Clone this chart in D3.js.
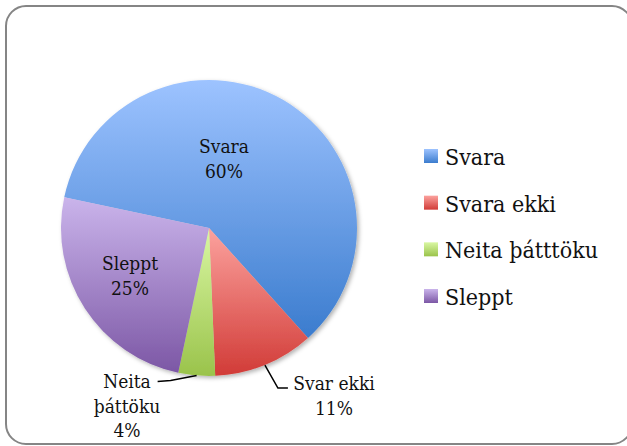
<!DOCTYPE html>
<html>
<head>
<meta charset="utf-8">
<script src="https://cdn.jsdelivr.net/npm/d3@7"></script>
<style>
  html, body { margin: 0; padding: 0; background: #fff; }
  svg { display: block; }
  text { font-family: "DejaVu Serif Condensed", "DejaVu Serif", serif; font-stretch: condensed; fill: #111; }
</style>
</head>
<body>
<div id="chart"></div>
<script>
// Data
const categories = ["Svara", "Svara ekki", "Neita þátttöku", "Sleppt"];
const values = [60, 11, 4, 25];
const sliceLabels = [["Svara", "60%"], ["Svar ekki", "11%"], ["Neita", "þáttöku", "4%"], ["Sleppt", "25%"]];
const colorsTop = ["#9dc3ff", "#fca29e", "#d9f7a3", "#cab4eb"];
const colorsBottom = ["#3b7cce", "#d13b37", "#9ac34b", "#7c57a5"];

/*******************************/
/*    Declare the constants    */
/*******************************/
const width = 627;
const height = 446;
const cx = 209;
const cy = 228;
const radius = 148;
const startAngle = -78 * Math.PI / 180;

// label placement relative to pie center (layout only)
const labelOffsets = [[15, -75], [125, 162], [-82, 160], [-79, 42]];
const leaderLines = [null, [[13, 23], [23, 23]], [[-26, 5], [-39, 6]], null];

const svg = d3.select("#chart")
  .append("svg")
    .attr("width", width)
    .attr("height", height);

const defs = svg.append("defs");
categories.forEach((c, i) => {
  const g = defs.append("linearGradient")
      .attr("id", `grad-${i}`)
      .attr("x1", 0).attr("y1", 0).attr("x2", 0).attr("y2", 1);
  g.append("stop").attr("offset", "0%").attr("stop-color", colorsTop[i]);
  g.append("stop").attr("offset", "100%").attr("stop-color", colorsBottom[i]);
});
const shadow = defs.append("filter")
    .attr("id", "shadow")
    .attr("x", "-10%").attr("y", "-10%").attr("width", "125%").attr("height", "125%");
shadow.append("feDropShadow")
    .attr("dx", 2).attr("dy", 2).attr("stdDeviation", 2)
    .attr("flood-color", "#000").attr("flood-opacity", 0.3);

// Outer frame
svg.append("rect")
    .attr("x", 6).attr("y", 6)
    .attr("width", 626).attr("height", 438)
    .attr("rx", 20).attr("ry", 20)
    .attr("fill", "#fff")
    .attr("stroke", "#858585")
    .attr("stroke-width", 2);

/****************************/
/*       The pie            */
/****************************/
const pie = d3.pie()
  .sort(null)
  .value(d => d)
  .startAngle(startAngle)
  .endAngle(startAngle + 2 * Math.PI);
const arcs = pie(values);
const arc = d3.arc().innerRadius(0).outerRadius(radius);

const pieG = svg.append("g")
    .attr("transform", `translate(${cx}, ${cy})`);

pieG.append("g")
    .attr("filter", "url(#shadow)")
  .selectAll("path")
  .data(arcs)
  .join("path")
    .attr("d", arc)
    .attr("fill", (d, i) => `url(#grad-${i})`);

// Leader lines
arcs.forEach((d, i) => {
  if (!leaderLines[i]) return;
  const mid = (d.startAngle + d.endAngle) / 2;
  const p0 = [radius * Math.sin(mid), -radius * Math.cos(mid)];
  const pts = [p0].concat(leaderLines[i].map(o => [p0[0] + o[0], p0[1] + o[1]]));
  pieG.append("polyline")
      .attr("points", pts.map(p => p.join(",")).join(" "))
      .attr("fill", "none")
      .attr("stroke", "#000")
      .attr("stroke-width", 1.5);
});

// Data labels
sliceLabels.forEach((lines, i) => {
  const t = pieG.append("text")
      .attr("text-anchor", "middle")
      .attr("font-size", 19)
      .attr("x", labelOffsets[i][0])
      .attr("y", labelOffsets[i][1]);
  lines.forEach((s, j) => {
    t.append("tspan")
        .attr("x", labelOffsets[i][0])
        .attr("dy", j === 0 ? 0 : 24.5)
        .text(s);
  });
});

/****************************/
/*       The legend         */
/****************************/
const legendScale = d3.scalePoint()
  .domain(categories)
  .range([165, 305]);

const legend = svg.append("g");
categories.forEach((c, i) => {
  const y = legendScale(c);
  legend.append("rect")
      .attr("x", 424).attr("y", y - 16)
      .attr("width", 14).attr("height", 14)
      .attr("fill", `url(#grad-${i})`);
  legend.append("text")
      .attr("x", 445).attr("y", y)
      .attr("font-size", 23)
      .text(c);
});
</script>
</body>
</html>
